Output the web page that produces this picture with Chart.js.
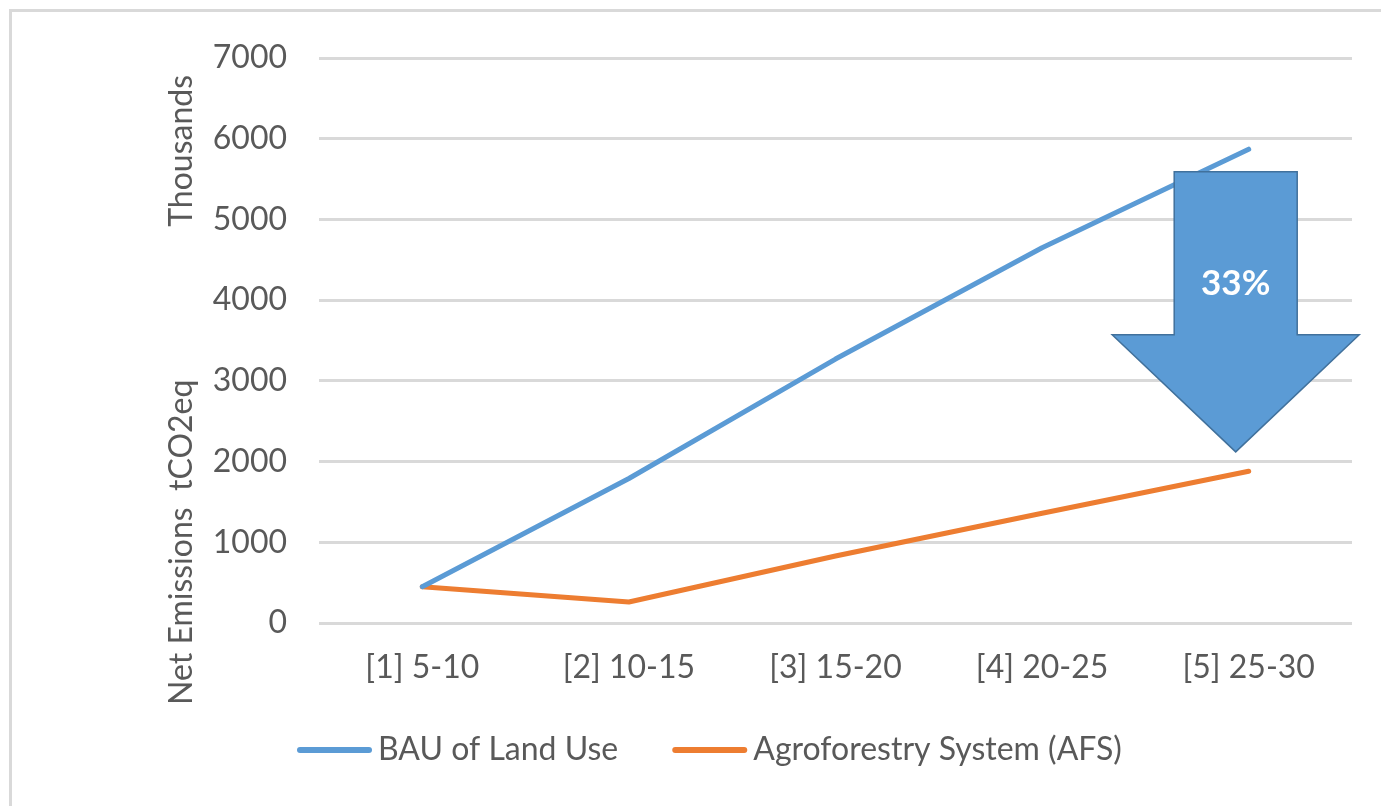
<!DOCTYPE html>
<html>
<head>
<meta charset="utf-8">
<title>Net Emissions BAU vs AFS</title>
<script src="https://cdn.jsdelivr.net/npm/chart.js@4.4.1/dist/chart.umd.min.js"></script>
<style>
  html, body { margin: 0; padding: 0; background: #ffffff; }
  #myChart { display: block; }
</style>
</head>
<body>
<canvas id="myChart" width="1381" height="806"></canvas>
<script>
// periods on the x axis
const periods = ['[1] 5-10', '[2] 10-15', '[3] 15-20', '[4] 20-25', '[5] 25-30'];

// net emissions, thousands of tCO2eq
const bauValues = [450, 1790, 3270, 4650, 5870];
const afsValues = [450, 260, 830, 1360, 1880];

const seriesNames = ['BAU of Land Use', 'Agroforestry System (AFS)'];
const reductionLabel = '33%';
const axisTitle = 'Net Emissions  tCO2eq';
const unitsTitle = 'Thousands';

const blue = '#5B9BD5';
const orange = '#ED7D31';
const textColor = '#595959';
const gridColor = '#D9D9D9';
const fontFamily = 'Lato, "Open Sans", sans-serif';
const fontSize = 32;

// light frame round the whole chart
const framePlugin = {
    id: 'frame',
    beforeDraw(chart) {
        const ctx = chart.ctx;
        ctx.save();
        ctx.fillStyle = '#ffffff';
        ctx.fillRect(0, 0, chart.width, chart.height);
        ctx.strokeStyle = gridColor;
        ctx.lineWidth = 3;
        ctx.strokeRect(10.5, 10.5, chart.width + 20, chart.height + 20);
        ctx.restore();
    }
};

// the two rotated titles on the value axis
const axisTitlesPlugin = {
    id: 'axisTitles',
    afterDraw(chart) {
        const ctx = chart.ctx;
        const y = chart.scales.y;
        ctx.save();
        ctx.fillStyle = textColor;
        ctx.font = fontSize + 'px ' + fontFamily;
        ctx.textAlign = 'center';
        ctx.textBaseline = 'middle';
        ctx.translate(182, 0);
        ctx.rotate(-Math.PI / 2);
        ctx.fillText(unitsTitle, -y.getPixelForValue(5850), 0);
        ctx.fillText(axisTitle, -y.getPixelForValue(1000), 0);
        ctx.restore();
    }
};

// big down arrow over the last period with the reduction in it
const arrowPlugin = {
    id: 'reductionArrow',
    afterDatasetsDraw(chart) {
        const ctx = chart.ctx;
        const x = chart.scales.x;
        const y = chart.scales.y;
        const cx = x.getPixelForValue(4) - 13;
        const top = y.getPixelForValue(5590);
        const neck = y.getPixelForValue(3570);
        const tip = y.getPixelForValue(2120);
        const shaft = 61.5;
        const head = 123.5;

        ctx.save();
        ctx.beginPath();
        ctx.moveTo(cx - shaft, top);
        ctx.lineTo(cx + shaft, top);
        ctx.lineTo(cx + shaft, neck);
        ctx.lineTo(cx + head, neck);
        ctx.lineTo(cx, tip);
        ctx.lineTo(cx - head, neck);
        ctx.lineTo(cx - shaft, neck);
        ctx.closePath();
        ctx.fillStyle = blue;
        ctx.fill();
        ctx.strokeStyle = '#41719C';
        ctx.lineWidth = 1.5;
        ctx.stroke();

        ctx.fillStyle = '#ffffff';
        ctx.font = 'bold 35px ' + fontFamily;
        ctx.textAlign = 'center';
        ctx.textBaseline = 'middle';
        ctx.fillText(reductionLabel, cx, y.getPixelForValue(4200));
        ctx.restore();
    }
};

// legend drawn as line samples under the axis
const lineLegendPlugin = {
    id: 'lineLegend',
    afterDraw(chart) {
        const ctx = chart.ctx;
        const legendY = 750;
        let left = 297;
        ctx.save();
        ctx.font = fontSize + 'px ' + fontFamily;
        ctx.textBaseline = 'middle';
        ctx.textAlign = 'left';
        chart.data.datasets.forEach((ds) => {
            ctx.strokeStyle = ds.borderColor;
            ctx.lineWidth = 6;
            ctx.lineCap = 'round';
            ctx.beginPath();
            ctx.moveTo(left + 3, legendY);
            ctx.lineTo(left + 72, legendY);
            ctx.stroke();
            ctx.fillStyle = textColor;
            ctx.fillText(ds.label, left + 81, legendY);
            left += 81 + ctx.measureText(ds.label).width + 54;
        });
        ctx.restore();
    }
};

const ctx = document.getElementById('myChart').getContext('2d');
const chart = new Chart(ctx, {
    type: 'line',
    data: {
        labels: periods,
        datasets: [{
            label: seriesNames[0],
            data: bauValues,
            borderColor: blue,
            backgroundColor: blue,
            borderWidth: 5,
            pointRadius: 0,
            borderCapStyle: 'round',
            borderJoinStyle: 'round',
            tension: 0
        }, {
            label: seriesNames[1],
            data: afsValues,
            borderColor: orange,
            backgroundColor: orange,
            borderWidth: 5,
            pointRadius: 0,
            borderCapStyle: 'round',
            borderJoinStyle: 'round',
            tension: 0
        }]
    },
    options: {
        responsive: false,
        animation: false,
        devicePixelRatio: 1,
        layout: {
            padding: { top: 58, right: 29, bottom: 0, left: 0 }
        },
        plugins: {
            legend: { display: false },
            tooltip: { enabled: false }
        },
        scales: {
            x: {
                offset: true,
                grid: { display: false, drawTicks: false },
                border: { display: false },
                ticks: {
                    color: textColor,
                    font: { family: fontFamily, size: fontSize },
                    padding: 25,
                    maxRotation: 0
                },
                afterFit(scale) { scale.height = 183; }
            },
            y: {
                min: 0,
                max: 7000,
                grid: { color: gridColor, lineWidth: 3, drawTicks: false },
                border: { display: false },
                ticks: {
                    stepSize: 1000,
                    color: textColor,
                    font: { family: fontFamily, size: fontSize },
                    padding: 32,
                    callback: (value) => String(value)
                },
                afterFit(scale) { scale.width = 319; }
            }
        }
    },
    plugins: [framePlugin, axisTitlesPlugin, arrowPlugin, lineLegendPlugin]
});
</script>
</body>
</html>
